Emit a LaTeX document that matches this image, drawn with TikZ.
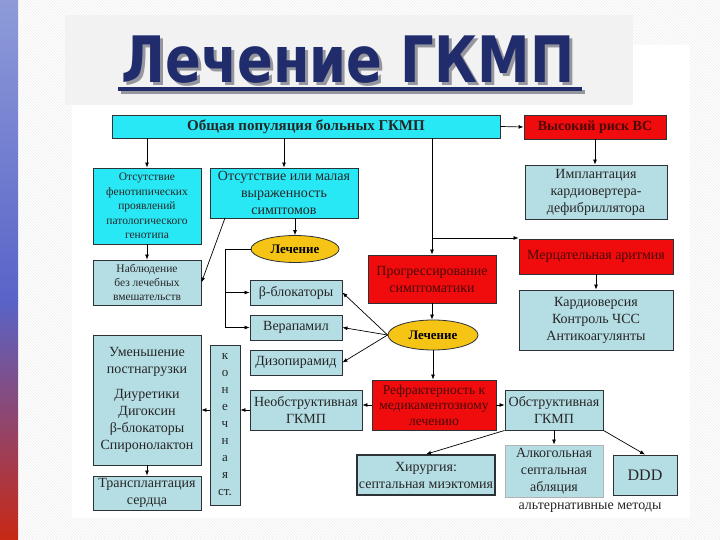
\documentclass[tikz,border=0pt]{standalone}
\usepackage{fontspec}
\setmainfont{Liberation Serif}
\newfontfamily\titlefont{DejaVu Sans}
\usetikzlibrary{arrows.meta,shapes.geometric,patterns}
\definecolor{cyanbox}{RGB}{40,232,245}
\definecolor{lbbox}{RGB}{180,221,228}
\definecolor{redbox}{RGB}{240,12,12}
\definecolor{yell}{RGB}{245,196,20}
\definecolor{navy}{RGB}{33,44,108}
\definecolor{edge}{RGB}{45,50,55}
\definecolor{panelgray}{RGB}{242,242,242}
\definecolor{shadowgray}{RGB}{150,150,158}
\newcommand{\ttlword}{\scalebox{0.8}[0.97]{\titlefont\bfseries\fontsize{66}{66}\selectfont Лечение ГКМП}}
\newcommand{\rt}[1]{\textcolor[RGB]{75,8,8}{#1}}
\tikzset{
  bx/.style={draw=edge, line width=0.9pt, align=center, inner sep=1pt, text=black!85, font=\fontsize{14}{17}\selectfont},
  cy/.style={bx, fill=cyanbox},
  lb/.style={bx, fill=lbbox},
  rd/.style={bx, fill=redbox},
  el/.style={ellipse, draw=edge, line width=0.8pt, fill=yell, inner sep=0pt, font=\bfseries\fontsize{13}{15}\selectfont},
  ar/.style={draw=black, line width=0.7pt, -{Latex[length=5pt,width=4pt]}},
  sz/.style 2 args={minimum width=#1, minimum height=#2},
}
\begin{document}
\begin{tikzpicture}[x=1pt,y=-1pt]
\useasboundingbox (0,0) rectangle (720,540);
% background
\fill[white] (0,0) rectangle (720,540);
\fill[pattern=north west lines, pattern color=black!7] (0,0) rectangle (720,540);
\fill[white] (72,45) rectangle (690,518);
\fill[panelgray] (65,15) rectangle (633,105);
% left bar
\shade[top color={rgb,255:red,142;green,155;blue,216}, bottom color={rgb,255:red,88;green,100;blue,200}] (0,0) rectangle (18,300);
\shade[top color={rgb,255:red,88;green,100;blue,200}, bottom color={rgb,255:red,200;green,40;blue,20}] (0,300) rectangle (18,540);
% title
\fill[shadowgray] (121,90) rectangle (585,94.5);
\fill[navy] (118,87) rectangle (582,91);
\node[anchor=base, inner sep=0pt] (title) at (348,83) {\rlap{\hspace{3pt}\raisebox{-3pt}{\color{shadowgray}\ttlword}}\color{navy}\ttlword};
% nodes
\node[cy, sz={388pt}{23pt}, font=\bfseries\fontsize{15}{17}\selectfont] (top) at (306,126.5) {Общая популяция больных ГКМП};
\node[rd, sz={142pt}{24pt}, font=\bfseries\fontsize{14}{17}\selectfont] (risk) at (595,127) {\rt{Высокий риск ВС}};
\node[cy, sz={108pt}{76pt}, font=\fontsize{11.5}{14.5}\selectfont] (phen) at (147,206) {Отсутствие\\фенотипических\\проявлений\\патологического\\генотипа};
\node[cy, sz={148pt}{50pt}] (asym) at (284,193) {Отсутствие или малая\\выраженность\\симптомов};
\node[lb, sz={142pt}{54pt}] (icd) at (596,192) {Имплантация\\кардиовертера-\\дефибриллятора};
\node[el, sz={88pt}{27pt}] (ell1) at (295,249) {Лечение};
\node[rd, sz={154pt}{35pt}] (af) at (596,256.5) {\rt{Мерцательная аритмия}};
\node[lb, sz={108pt}{45pt}, font=\fontsize{11.5}{14}\selectfont] (obs) at (147,282.5) {Наблюдение\\без лечебных\\вмешательств};
\node[lb, sz={92pt}{25pt}] (beta) at (296,292.5) {β-блокаторы};
\node[rd, sz={128pt}{48pt}] (prog) at (432,279) {\rt{Прогрессирование}\\\rt{симптоматики}};
\node[lb, sz={154pt}{60pt}] (cardio) at (596,320) {Кардиоверсия\\Контроль ЧСС\\Антикоагулянты};
\node[lb, sz={92pt}{25pt}] (vera) at (296,327.5) {Верапамил};
\node[el, sz={90pt}{30pt}] (ell2) at (433,335) {Лечение};
\node[lb, sz={108pt}{130pt}] (after) at (147,400) {Уменьшение\\постнагрузки\\[8pt]Диуретики\\Дигоксин\\β-блокаторы\\Спиронолактон};
\node[lb, sz={30pt}{160pt}, font=\fontsize{13}{17}\selectfont] (kon) at (225,425) {к\\о\\н\\е\\ч\\н\\а\\я\\ст.};
\node[lb, sz={92pt}{25pt}] (diso) at (296,362.5) {Дизопирамид};
\node[rd, sz={124pt}{50pt}, font=\fontsize{13.5}{15.5}\selectfont] (refr) at (434,405) {\rt{Рефрактерность к}\\\rt{медикаментозному}\\\rt{лечению}};
\node[lb, sz={112pt}{40pt}] (nonobs) at (306,410) {Необструктивная\\ГКМП};
\node[lb, sz={98pt}{40pt}] (obstr) at (554,410) {Обструктивная\\ГКМП};
\node[lb, sz={108pt}{34pt}] (trans) at (147,493) {Трансплантация\\сердца};
\node[lb, sz={138pt}{40pt}, line width=1.5pt] (surg) at (426,475) {Хирургия:\\септальная миэктомия};
\node[lb, sz={98pt}{52pt}, draw=gray!60] (alc) at (554,471) {Алкогольная\\септальная\\абляция};
\node[lb, sz={64pt}{40pt}, font=\fontsize{16}{18}\selectfont] (ddd) at (645,475) {DDD};
\node[font=\fontsize{14}{16}\selectfont, text=black!85, inner sep=0pt] (alt) at (590,508) {альтернативные методы};
% connectors
\draw[ar] (top.south -| phen.north) -- (phen.north);
\draw[ar] (top.south -| asym.north) -- (asym.north);
\draw[ar] (top.east) -- (risk.west);
\draw[ar] (risk.south) -- (risk.south |- icd.north);
\coordinate (tb) at (432,138);
\coordinate (br) at (432,238);
\draw[ar] (tb) -- (prog.north);
\draw[ar] (br) -- (br -| af.west);
\draw[ar] (phen.south) -- (obs.north);
\coordinate (d1) at (225,218);
\draw[ar] (d1) -- (obs.east);
\draw[ar] (asym.south -| ell1.north) -- (ell1.north);
\coordinate (lj) at (225,249);
\draw[ar] (ell1.west) -- (lj) |- (vera.west);
\draw[ar] (lj |- beta.west) -- (beta.west);
\draw[ar] (ell2.west) -- (beta.east);
\draw[ar] (ell2.west) -- (vera.east);
\draw[ar] (ell2.west) -- (diso.east);
\draw[ar] (prog.south) -- (prog.south |- ell2.north);
\draw[ar] (ell2.south) -- (ell2.south |- refr.north);
\draw[ar] (af.south) -- (af.south |- cardio.north);
\draw[ar] (refr.west) -- (refr.west -| nonobs.east);
\draw[ar] (refr.east) -- (refr.east -| obstr.west);
\draw[ar] (nonobs.west) -- (nonobs.west -| kon.east);
\draw[ar] (kon.west |- nonobs.west) -- (nonobs.west -| after.east);
\draw[ar] (after.south) -- (trans.north);
\draw[ar] (obstr.south west) -- (surg.north);
\draw[ar] (obstr.south) -- (alc.north);
\draw[ar] (obstr.south east) -- (ddd.north);
\end{tikzpicture}
\end{document}
